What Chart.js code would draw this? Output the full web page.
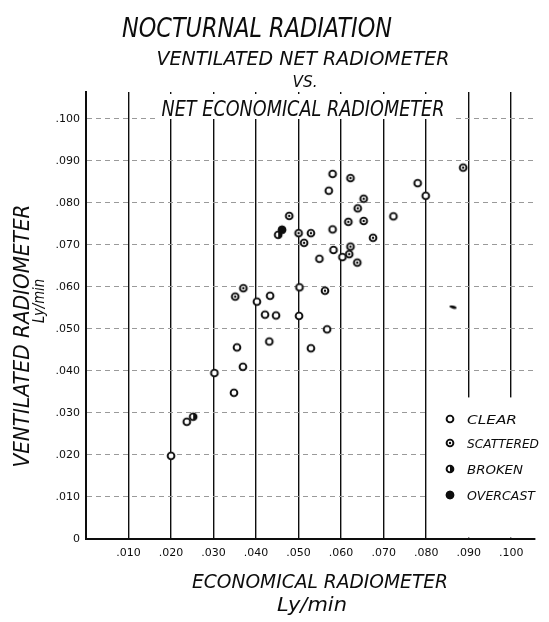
<!DOCTYPE html>
<html>
<head>
<meta charset="utf-8">
<script src="https://cdn.jsdelivr.net/npm/chart.js@4/dist/chart.umd.min.js"></script>
<style>
    html, body { margin: 0; padding: 0; background: #fff; }
</style>
</head>
<body>
<canvas id="radChart" width="549" height="622"></canvas>
<script>
// values, Ly/min (economical = x, ventilated = y)
const clearX = [.0200, .0237, .0302, .0348, .0355, .0369, .0402, .0433, .0421, .0447, .0431, .0502, .0501, .0567, .0529,
                .0549, .0582, .0603, .0580, .0580, .0571, .0780, .0799, .0723];
const clearY = [.0198, .0279, .0395, .0348, .0456, .0410, .0565, .0579, .0534, .0532, .0470, .0599, .0531, .0499, .0454,
                .0667, .0688, .0671, .0737, .0869, .0829, .0847, .0817, .0768];

const scatteredX = [.0370, .0351, .0562, .0478, .0500, .0529, .0513, .0653, .0639, .0617, .0653, .0675, .0622, .0619, .0638, .0622, .0887];
const scatteredY = [.0597, .0577, .0591, .0769, .0728, .0728, .0705, .0810, .0787, .0755, .0757, .0717, .0696, .0678, .0658, .0859, .0884];

const brokenX = [.0252, .0452];
const brokenY = [.0291, .0724];

const overcastX = [.0461, .0863];
const overcastY = [.0736, .0552];

const tickLabelsY = ["0", ".010", ".020", ".030", ".040", ".050", ".060", ".070", ".080", ".090", ".100"];
const tickLabelsX = ["", ".010", ".020", ".030", ".040", ".050", ".060", ".070", ".080", ".090", ".100"];

const legendNames = ["CLEAR", "SCATTERED", "BROKEN", "OVERCAST"];

const INK = "#0d0d0d";

function pairs(xs, ys) {
    return xs.map((x, i) => ({ x: x, y: ys[i] }));
}

function makeMarker(kind) {
    const c = document.createElement("canvas");
    c.width = 12;
    c.height = 12;
    const g = c.getContext("2d");
    const r = 3.4;
    g.lineWidth = 1.9;
    g.strokeStyle = INK;
    g.fillStyle = "#fff";
    g.beginPath();
    g.arc(6, 6, r, 0, Math.PI * 2);
    g.fill();
    g.stroke();
    g.fillStyle = INK;
    if (kind === "scattered") {
        g.beginPath();
        g.arc(6, 6, 1.2, 0, Math.PI * 2);
        g.fill();
    }
    if (kind === "broken") {
        g.beginPath();
        g.arc(6, 6, r, -Math.PI / 2, Math.PI / 2);
        g.closePath();
        g.fill();
    }
    if (kind === "overcast") {
        g.beginPath();
        g.arc(6, 6, r + 0.8, 0, Math.PI * 2);
        g.fill();
    }
    return c;
}

function makeDash() {
    const c = document.createElement("canvas");
    c.width = 9;
    c.height = 5;
    const g = c.getContext("2d");
    g.fillStyle = INK;
    g.beginPath();
    g.ellipse(4.5, 2.5, 3.6, 1.5, 0.25, 0, Math.PI * 2);
    g.fill();
    return c;
}

const markers = {
    clear: makeMarker("clear"),
    scattered: makeMarker("scattered"),
    broken: makeMarker("broken"),
    overcast: makeMarker("overcast"),
    dash: makeDash()
};

// italic lettering squeezed to a given width
function letter(g, text, x, y, size, width, align) {
    g.save();
    g.font = "italic " + size + "px 'DejaVu Sans'";
    const w = g.measureText(text).width;
    g.translate(x, y);
    g.scale(width / w, 1);
    g.textAlign = align || "center";
    g.textBaseline = "alphabetic";
    g.fillStyle = INK;
    g.fillText(text, 0, 0);
    g.restore();
}

const lettering = {
    id: "lettering",
    beforeDatasetsDraw(chart) {
        const g = chart.ctx;
        const area = chart.chartArea;
        const xs = chart.scales.x;
        const ys = chart.scales.y;
        g.save();
        g.fillStyle = "#fff";
        // the legend box clears the grid in the lower right corner
        g.fillRect(xs.getPixelForValue(0.08) + 2, ys.getPixelForValue(0.0337), area.right - xs.getPixelForValue(0.08), ys.getPixelForValue(0) - ys.getPixelForValue(0.0337) - 1.5);
        g.restore();
    },
    afterDraw(chart) {
        const g = chart.ctx;
        g.save();
        g.fillStyle = "#fff";
        g.fillRect(156, 94, 296, 25);
        g.restore();

        letter(g, "NOCTURNAL RADIATION", 257, 37, 27, 270);
        letter(g, "VENTILATED NET RADIOMETER", 303, 65, 20, 293);
        letter(g, "VS.", 305, 87, 16, 25);
        letter(g, "NET ECONOMICAL RADIOMETER", 303, 116, 21, 283);

        letter(g, "ECONOMICAL RADIOMETER", 320, 588, 20, 256);
        letter(g, "Ly/min", 312, 611, 20, 70);

        g.save();
        g.translate(29, 336);
        g.rotate(-Math.PI / 2);
        letter(g, "VENTILATED RADIOMETER", 0, 0, 21, 263);
        g.restore();
        g.save();
        g.translate(44, 301);
        g.rotate(-Math.PI / 2);
        letter(g, "Ly/min", 0, 0, 16, 44);
        g.restore();

        // legend
        const keys = ["clear", "scattered", "broken", "overcast"];
        const rows = [419, 443, 469, 495];
        const widths = [50, 72, 56, 68];
        keys.forEach((k, i) => {
            const m = markers[k];
            g.drawImage(m, 450 - m.width / 2, rows[i] - m.height / 2);
            letter(g, legendNames[i], 467, rows[i] + 5, 13, widths[i], "left");
        });
    }
};

const tickFont = { family: "'DejaVu Sans'", size: 11 };

new Chart(document.getElementById("radChart"), {
    type: "scatter",
    data: {
        datasets: [
            { label: legendNames[0], data: pairs(clearX, clearY), pointStyle: markers.clear },
            { label: legendNames[1], data: pairs(scatteredX, scatteredY), pointStyle: markers.scattered },
            { label: legendNames[2], data: pairs(brokenX, brokenY), pointStyle: markers.broken },
            {
                label: legendNames[3],
                data: pairs(overcastX, overcastY),
                pointStyle: ctx => ctx.dataIndex === 1 ? markers.dash : markers.overcast
            }
        ]
    },
    options: {
        responsive: false,
        animation: false,
        devicePixelRatio: 1,
        layout: { padding: { top: 92, right: 14, left: 0, bottom: 0 } },
        plugins: {
            legend: { display: false },
            tooltip: { enabled: false }
        },
        scales: {
            x: {
                type: "linear",
                min: 0,
                max: 0.1056,
                afterFit: s => { s.height = 83; },
                ticks: {
                    stepSize: 0.01,
                    includeBounds: false,
                    padding: 8,
                    color: INK,
                    font: tickFont,
                    maxRotation: 0,
                    callback: v => tickLabelsX[Math.round(v * 100)]
                },
                grid: {
                    drawTicks: false,
                    lineWidth: 1.4,
                    color: ctx => (ctx.tick && ctx.tick.value > 0.0005) ? INK : "rgba(0,0,0,0)"
                },
                border: { color: INK, width: 2 }
            },
            y: {
                type: "linear",
                min: 0,
                max: 0.1064,
                afterFit: s => { s.width = 86; },
                ticks: {
                    stepSize: 0.01,
                    includeBounds: false,
                    padding: 6,
                    color: INK,
                    font: tickFont,
                    callback: v => tickLabelsY[Math.round(v * 100)]
                },
                grid: {
                    drawTicks: false,
                    lineWidth: 1,
                    color: ctx => (ctx.tick && ctx.tick.value > 0.0005) ? "#9a9a9a" : "rgba(0,0,0,0)"
                },
                border: { color: INK, width: 2, dash: [5, 4] }
            }
        }
    },
    plugins: [lettering]
});
</script>
</body>
</html>
